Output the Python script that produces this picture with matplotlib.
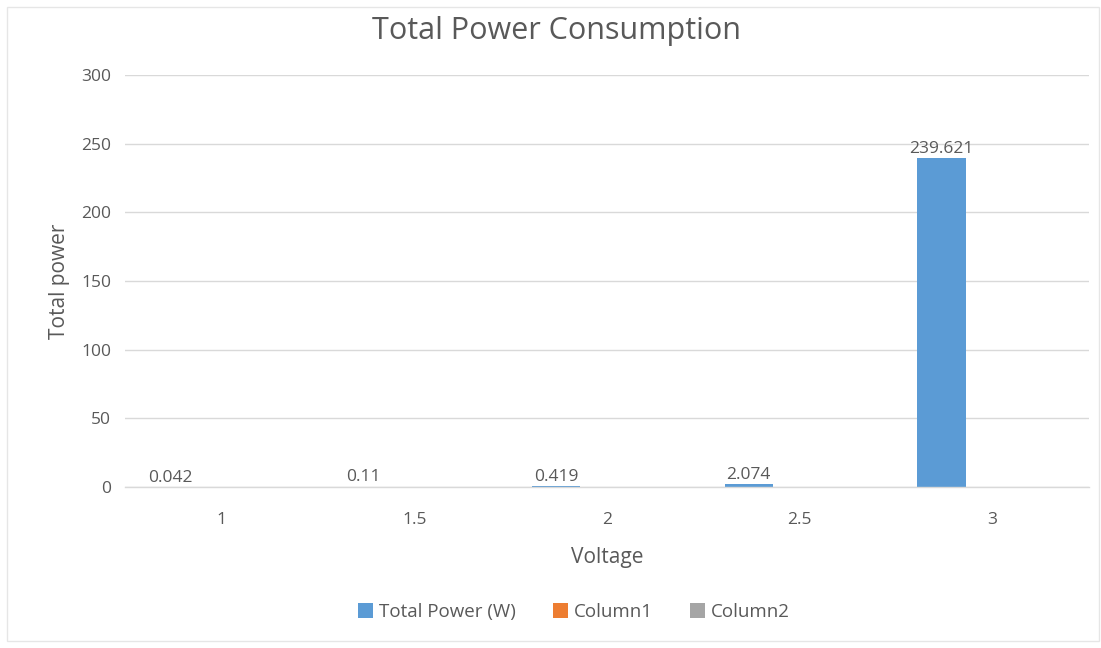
import matplotlib
matplotlib.use("Agg")
import matplotlib.pyplot as plt
import numpy as np

# Data
voltages = ["1", "1.5", "2", "2.5", "3"]
total_power = [0.042, 0.11, 0.419, 2.074, 239.621]
power_labels = ["0.042", "0.11", "0.419", "2.074", "239.621"]
column1 = [np.nan] * 5
column2 = [np.nan] * 5
y_ticks = [0, 50, 100, 150, 200, 250, 300]

plt.rcParams["font.family"] = ["Open Sans", "DejaVu Sans"]
text_color = "#595959"
grid_color = "#d9d9d9"

fig = plt.figure(figsize=(11.01, 6.48), dpi=100)
ax = fig.add_axes([125 / 1101, 1 - 487 / 648, (1089 - 125) / 1101, (487 - 75) / 648])

x = np.arange(len(voltages))
w = 0.25
step = 0.265
ax.bar(x - step, total_power, w, color="#5B9BD5", label="Total Power (W)")
ax.bar(x, column1, w, color="#ED7D31", label="Column1")
ax.bar(x + step, column2, w, color="#A5A5A5", label="Column2")

for xi, v, s in zip(x, total_power, power_labels):
    ax.annotate(s, (xi - step, v), xytext=(0, 1), textcoords="offset points",
                ha="center", va="bottom", fontsize=12.5, color=text_color)

ax.set_xlim(-0.5, len(voltages) - 0.5)
ax.set_ylim(0, 300)
ax.set_yticks(y_ticks)
ax.set_xticks(x)
ax.set_xticklabels(voltages)
ax.tick_params(axis="both", length=0, labelsize=12.5, labelcolor=text_color)
ax.tick_params(axis="x", pad=18)
ax.tick_params(axis="y", pad=10)
ax.yaxis.grid(True, color=grid_color, linewidth=1)
ax.set_axisbelow(True)
for side in ["top", "right", "left"]:
    ax.spines[side].set_visible(False)
ax.spines["bottom"].set_color(grid_color)
ax.spines["bottom"].set_linewidth(1)

ax.set_xlabel("Voltage", fontsize=15, color=text_color, labelpad=14)
ax.set_ylabel("Total power", fontsize=15, color=text_color, labelpad=8)

fig.text(556 / 1101, 1 - 31 / 648, "Total Power Consumption", ha="center", va="center",
         fontsize=22, color=text_color)

leg = fig.legend(loc="center", bbox_to_anchor=(574 / 1101, 1 - 612 / 648), ncol=3,
                 frameon=False, fontsize=13.5, handlelength=0.8, handleheight=0.8,
                 handletextpad=0.3, columnspacing=2.0)
for t in leg.get_texts():
    t.set_color(text_color)

# Chart frame
fig.add_artist(plt.Rectangle((7 / 1101, 7 / 648), (1099 - 7) / 1101, (641 - 7) / 648,
                             transform=fig.transFigure, fill=False,
                             edgecolor="#e6e6e6", linewidth=1))

fig.savefig("out.png", dpi=100, facecolor="white")
